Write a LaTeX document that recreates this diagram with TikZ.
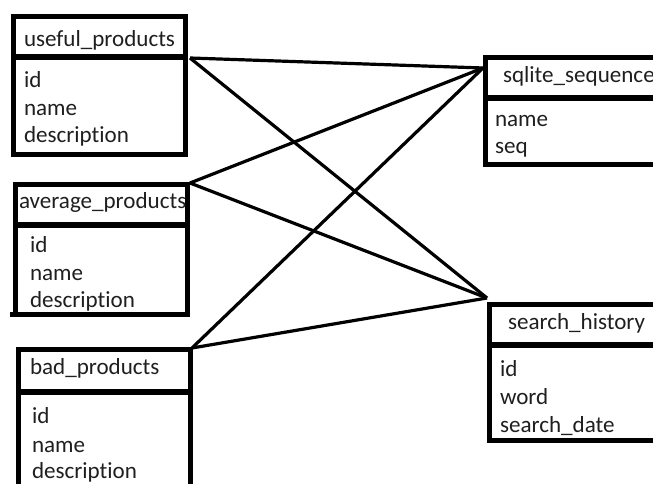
\documentclass[tikz,border=0pt]{standalone}
\usepackage{fontspec}
\setmainfont{Carlito}[Ligatures=NoCommon]
\begin{document}
\begin{tikzpicture}[x=0.75pt,y=-0.75pt,
  tbl/.style={line width=3.9pt},
  conn/.style={line width=2.4pt},
  txt/.style={anchor=base west,inner sep=0pt,outer sep=0pt,font=\fontsize{17.3}{20}\selectfont,text=black!88}]
\useasboundingbox (0,0) rectangle (653,484);
\clip (0,0) rectangle (653,484);
% useful_products
\draw[tbl] (13.5,16.5) rectangle (185.5,154.5);
\draw[tbl] (13.5,57) -- (185.5,57);
\node[txt] (ut) at (24,47) {useful\_products};
\node[txt] (u1) at (24,88) {id};
\node[txt] (u2) at (24,116) {name};
\node[txt] (u3) at (24,143) {description};
% average_products
\draw[tbl] (15.5,184.5) rectangle (187.5,314.5);
\draw[tbl] (15.5,225) -- (187.5,225);
\draw[tbl] (10,314.5) -- (15.5,314.5);
\node[txt] (at) at (19,209) {average\_products};
\node[txt] (a1) at (30,253) {id};
\node[txt] (a2) at (30,281) {name};
\node[txt] (a3) at (30,308) {description};
% bad_products
\draw[tbl] (18.5,500) -- (18.5,349.5) -- (190.5,349.5) -- (190.5,500);
\draw[tbl] (18.5,392) -- (190.5,392);
\node[txt] (bt) at (30,375) {bad\_products};
\node[txt] (b1) at (32,423) {id};
\node[txt] (b2) at (32,452) {name};
\node[txt] (b3) at (32,478) {description};
% sqlite_sequence
\draw[tbl] (700,57.5) -- (485.5,57.5) -- (485.5,164.5) -- (700,164.5);
\draw[tbl] (485.5,98) -- (700,98);
\node[txt] (st) at (503,83) {sqlite\_sequence};
\node[txt] (s1) at (495,127) {name};
\node[txt] (s2) at (495,154) {seq};
% search_history
\draw[tbl] (700,304.5) -- (489.5,304.5) -- (489.5,440.5) -- (700,440.5);
\draw[tbl] (489.5,345) -- (700,345);
\node[txt] (ht) at (508,330) {search\_history};
\node[txt] (h1) at (500,377) {id};
\node[txt] (h2) at (500,404) {word};
\node[txt] (h3) at (500,432) {search\_date};
% connector anchors
\coordinate (U) at (190,58);
\coordinate (A) at (190,183);
\coordinate (B) at (192,348);
\coordinate (S) at (483,68);
\coordinate (H) at (487,298);
\draw[conn] (U) -- (S);
\draw[conn] (U) -- (H);
\draw[conn] (A) -- (S);
\draw[conn] (A) -- (H);
\draw[conn] (B) -- (S);
\draw[conn] (B) -- (H);
\end{tikzpicture}
\end{document}
